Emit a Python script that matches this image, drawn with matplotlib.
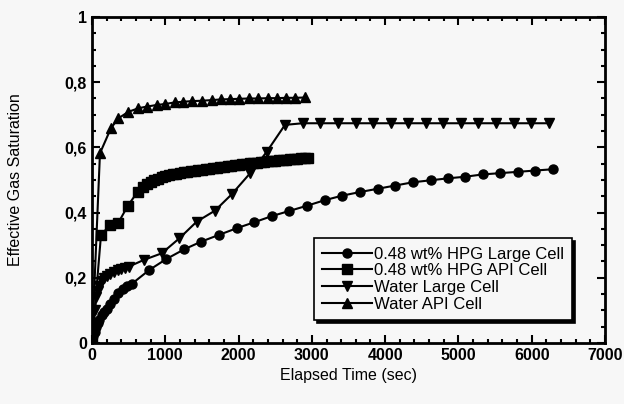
import matplotlib.pyplot as plt
from matplotlib.ticker import MultipleLocator

# datos (tiempo en seg, saturacion)
hpg_large_t = [0, 20, 40, 60, 80, 100, 130, 160, 200, 250, 300, 360, 420, 480, 541,
               782, 1010, 1255, 1491, 1737, 1974, 2210, 2451, 2692, 2933, 3175,
               3415, 3656, 3897, 4138, 4379, 4620, 4853, 5093, 5330, 5570, 5810,
               6050, 6290]
hpg_large_s = [0, 0.02, 0.035, 0.05, 0.06, 0.07, 0.085, 0.095, 0.105, 0.12, 0.135,
               0.152, 0.165, 0.174, 0.181, 0.224, 0.257, 0.287, 0.311, 0.332, 0.352,
               0.370, 0.389, 0.405, 0.421, 0.438, 0.452, 0.463, 0.473, 0.483, 0.493,
               0.499, 0.505, 0.510, 0.517, 0.521, 0.525, 0.529, 0.533]

hpg_api_t = [0, 123, 246, 360, 487, 623, 700, 750, 800, 850, 900, 950, 1000, 1050,
             1100, 1150, 1200, 1250, 1300, 1350, 1400, 1450, 1500, 1550, 1600, 1650,
             1700, 1750, 1800, 1850, 1900, 1950, 2000, 2050, 2100, 2150, 2200, 2250,
             2300, 2350, 2400, 2450, 2500, 2550, 2600, 2650, 2700, 2750, 2800, 2850,
             2900, 2950]
hpg_api_s = [0, 0.331, 0.362, 0.369, 0.420, 0.464, 0.480, 0.488, 0.494, 0.500,
             0.504, 0.508, 0.511, 0.514, 0.517, 0.519, 0.521, 0.523, 0.525, 0.527,
             0.529, 0.530, 0.532, 0.533, 0.535, 0.536, 0.538, 0.539, 0.541, 0.542,
             0.544, 0.545, 0.547, 0.548, 0.550, 0.551, 0.552, 0.553, 0.555, 0.556,
             0.557, 0.558, 0.559, 0.560, 0.561, 0.562, 0.563, 0.564, 0.565, 0.566,
             0.567, 0.568]

water_large_t = [0, 20, 40, 60, 80, 100, 130, 160, 200, 250, 300, 350, 400, 450,
                 500, 709, 951, 1192, 1428, 1678, 1906, 2155, 2383, 2633, 2874,
                 3110, 3352, 3597, 3837, 4074, 4306, 4551, 4792, 5030, 5270, 5510,
                 5752, 5993, 6238]
water_large_s = [0, 0.05, 0.1, 0.14, 0.16, 0.175, 0.19, 0.198, 0.206, 0.213, 0.219,
                 0.224, 0.228, 0.231, 0.234, 0.255, 0.275, 0.321, 0.372, 0.406,
                 0.456, 0.520, 0.586, 0.669, 0.674, 0.674, 0.674, 0.674, 0.674,
                 0.674, 0.674, 0.674, 0.674, 0.674, 0.674, 0.674, 0.674, 0.674, 0.674]

water_api_t = [0, 109, 259, 360, 496, 632, 745, 882, 996, 1132, 1246, 1368, 1495,
               1632, 1755, 1883, 2010, 2140, 2270, 2400, 2520, 2650, 2770, 2906]
water_api_s = [0, 0.582, 0.659, 0.689, 0.709, 0.720, 0.725, 0.730, 0.733, 0.738,
               0.740, 0.742, 0.743, 0.745, 0.747, 0.748, 0.749, 0.750, 0.750, 0.751,
               0.751, 0.752, 0.752, 0.753]

y_ticks = [0, 0.2, 0.4, 0.6, 0.8, 1.0]
y_tick_labels = ['0', '0,2', '0,4', '0,6', '0,8', '1']

plt.rcParams['font.family'] = ['Liberation Sans', 'DejaVu Sans']

fig = plt.figure(figsize=(6.24, 4.04), dpi=100, facecolor='#f7f7f7')
ax = fig.add_axes([0.1474, 0.151, 0.8222, 0.807])
ax.set_facecolor('#f7f7f7')

estilo = dict(color='black', linewidth=1.5, markersize=6.5)
ax.plot(hpg_large_t, hpg_large_s, marker='o', label='0.48 wt% HPG Large Cell', **estilo)
ax.plot(hpg_api_t, hpg_api_s, marker='s', label='0.48 wt% HPG API Cell', **estilo)
ax.plot(water_large_t, water_large_s, marker='v', label='Water Large Cell', **estilo)
ax.plot(water_api_t, water_api_s, marker='^', label='Water API Cell', **estilo)

ax.set_xlim(0, 7000)
ax.set_ylim(0, 1)
ax.xaxis.set_major_locator(MultipleLocator(1000))
ax.xaxis.set_minor_locator(MultipleLocator(200))
ax.set_yticks(y_ticks)
ax.set_yticklabels(y_tick_labels)
ax.yaxis.set_minor_locator(MultipleLocator(0.05))
ax.tick_params(which='both', direction='in', top=True, right=True, width=1.5,
               labelsize=11.5)
ax.tick_params(which='major', length=6)
ax.tick_params(which='minor', length=3)
for lbl in ax.get_xticklabels() + ax.get_yticklabels():
    lbl.set_fontweight('bold')
for sp in ax.spines.values():
    sp.set_linewidth(2)

ax.set_xlabel('Elapsed Time (sec)', fontsize=11.5)
ax.set_ylabel('Effective Gas Saturation', fontsize=11.5, labelpad=30)

leg = ax.legend(loc='lower right', bbox_to_anchor=(0.952, 0.045), fontsize=12,
                handlelength=3.0, handletextpad=0.1, labelspacing=0.1,
                borderpad=0.5, fancybox=False, edgecolor='black', framealpha=1,
                facecolor='#f7f7f7', shadow={'color': 'black', 'alpha': 1})
leg.get_frame().set_linewidth(1.2)

fig.savefig('out.png', dpi=100, facecolor=fig.get_facecolor())
